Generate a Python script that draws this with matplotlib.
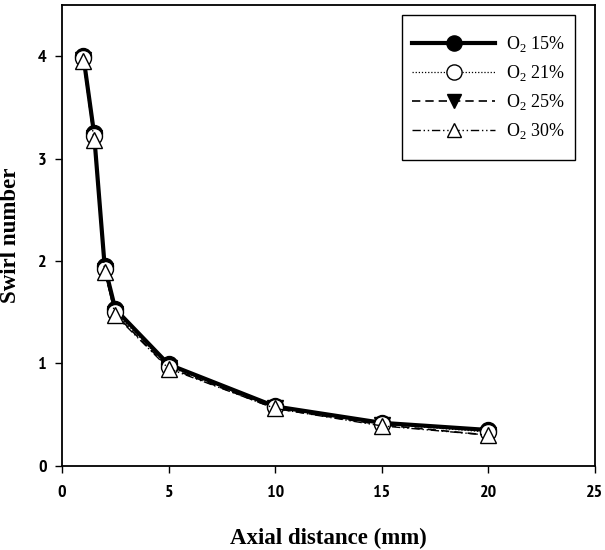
import matplotlib
matplotlib.use('Agg')
import matplotlib.pyplot as plt
from matplotlib import font_manager
from matplotlib.patches import Rectangle

# swirl number data
axialDistance = [1, 1.5, 2, 2.5, 5, 10, 15, 20]
swirlO2_15 = [4.00, 3.25, 1.95, 1.53, 0.99, 0.58, 0.42, 0.35]
swirlO2_21 = [3.98, 3.22, 1.92, 1.50, 0.97, 0.57, 0.41, 0.33]
swirlO2_25 = [3.96, 3.20, 1.90, 1.48, 0.96, 0.56, 0.40, 0.30]
swirlO2_30 = [3.95, 3.18, 1.89, 1.47, 0.95, 0.56, 0.39, 0.30]
seriesLabels = ['O$_2$ 15%', 'O$_2$ 21%', 'O$_2$ 25%', 'O$_2$ 30%']

# bold narrow sans for the tick labels (Arial Narrow look)
narrowBold = [f for f in font_manager.fontManager.ttflist
              if 'Narrow' in f.name and f.weight in (700, 'bold')]
if narrowBold:
    tickProps = font_manager.FontProperties(family=narrowBold[0].name, weight='bold', size=13)
else:
    tickProps = font_manager.FontProperties(family='DejaVu Sans', stretch='condensed',
                                            weight='bold', size=13)

plt.rcParams['mathtext.fontset'] = 'custom'
plt.rcParams['mathtext.rm'] = 'Liberation Serif'

fig = plt.figure(figsize=(6.05, 5.5), dpi=100)
ax = fig.add_axes([0.1025, 0.153, 0.881, 0.838])

ax.plot(axialDistance, swirlO2_15, color='black', lw=3, ls='-', marker='o',
        ms=11.5, mfc='black', mec='black', label=seriesLabels[0], zorder=4)
ax.plot(axialDistance, swirlO2_21, color='black', lw=0.9, ls=(0, (1, 1.5)), marker='o',
        ms=11.5, mfc='white', mec='black', label=seriesLabels[1], zorder=5)
ax.plot(axialDistance, swirlO2_25, color='black', lw=1.2, ls=(0, (5, 3)), marker='v',
        ms=11, mfc='black', mec='black', label=seriesLabels[2], zorder=3)
ax.plot(axialDistance, swirlO2_30, color='black', lw=1.0, ls=(0, (6, 2, 1, 2, 1, 2)), marker='^',
        ms=11, mfc='white', mec='black', label=seriesLabels[3], zorder=6)

ax.set_xlim(0, 25)
ax.set_ylim(0, 4.5)
ax.set_xticks([0, 5, 10, 15, 20, 25])
ax.set_yticks([0, 1, 2, 3, 4])
ax.tick_params(direction='out', length=5, width=1, top=False, right=False)
ax.tick_params(axis='x', pad=9)
ax.tick_params(axis='y', pad=6)
for lab in ax.get_xticklabels() + ax.get_yticklabels():
    lab.set_fontproperties(tickProps)
for sp in ax.spines.values():
    sp.set_linewidth(1.3)

ax.set_xlabel('Axial distance (mm)', family='Liberation Serif', fontweight='bold',
              fontsize=16.5, labelpad=19)
ax.set_ylabel('Swirl number', family='Liberation Serif', fontweight='bold',
              fontsize=16.5, labelpad=12)

# legend drawn without its own frame; top sits 9 px below the box top
padPx = 9
axHeightPx = 0.838 * 550
leg = ax.legend(loc='upper right', bbox_to_anchor=(0.962, 0.978 - padPx / axHeightPx),
                frameon=False, handlelength=4.6, borderpad=0.55, labelspacing=0.5,
                prop={'family': 'Liberation Serif', 'size': 13}, handletextpad=0.6,
                borderaxespad=0, markerscale=0.95)

# legend box: taller top/bottom padding than sides, like the reference
fig.canvas.draw()
bb = leg.get_window_extent().transformed(fig.transFigure.inverted())
padY = padPx / 550
fig.add_artist(Rectangle((bb.x0, bb.y0 - padY), bb.width, bb.height + 2 * padY,
                         transform=fig.transFigure, fill=False, edgecolor='black',
                         lw=1.0, zorder=10))

fig.savefig('out.png', dpi=100)
